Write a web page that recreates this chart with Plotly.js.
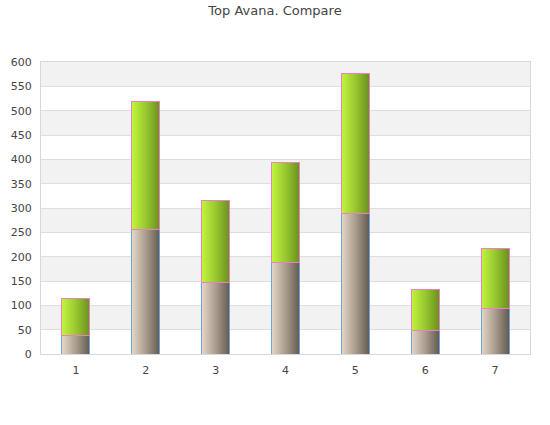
<!DOCTYPE html>
<html>
<head>
<meta charset="utf-8">
<script src="https://cdn.plot.ly/plotly-3.0.1.min.js"></script>
<style>html,body{margin:0;padding:0;background:#fff;}#chart{width:550px;height:425px;}</style>
</head>
<body>
<div id="chart"></div>
<script>
const categories = ["1", "2", "3", "4", "5", "6", "7"];
const baseValues = [38, 255, 147, 188, 289, 49, 94];
const topValues = [76, 263, 168, 205, 288, 83, 122];
const yTicks = [0, 50, 100, 150, 200, 250, 300, 350, 400, 450, 500, 550, 600];

const bands = [];
for (let i = 1; i < yTicks.length - 1; i += 2) {
  bands.push({type: 'rect', xref: 'paper', yref: 'y', x0: 0, x1: 1, y0: yTicks[i], y1: yTicks[i + 1],
    fillcolor: '#f2f2f2', line: {width: 0}, layer: 'below'});
}

const traces = [
  {type: 'bar', x: categories, y: baseValues, name: 'base',
   marker: {color: '#a89888', line: {color: '#6fa3dc', width: 1}}, width: 0.4},
  {type: 'bar', x: categories, y: topValues, name: 'top',
   marker: {color: '#98c830', line: {color: '#ee7fc4', width: 1}}, width: 0.4}
];

const layout = {
  width: 550, height: 425,
  barmode: 'stack',
  showlegend: false,
  paper_bgcolor: '#fff', plot_bgcolor: '#fff',
  font: {family: 'DejaVu Sans, sans-serif', size: 11, color: '#444'},
  title: {text: 'Top Avana. Compare', font: {size: 13, color: '#444'}, x: 0.5, xanchor: 'center', y: 0.975, yanchor: 'middle'},
  margin: {l: 41, r: 20, t: 62, b: 71},
  xaxis: {type: 'category', range: [-0.5, 6.5], showgrid: false, showline: true, linecolor: '#d8d8d8', linewidth: 1,
    mirror: true, ticks: '', tickfont: {size: 11, color: '#444'}, ticklabelstandoff: 6},
  yaxis: {range: [0, 600], tickvals: yTicks, showgrid: true, gridcolor: '#dedede', gridwidth: 1, zeroline: false,
    showline: true, linecolor: '#d8d8d8', linewidth: 1, mirror: true, ticks: '', tickfont: {size: 11, color: '#444'}, ticklabelstandoff: 6},
  shapes: bands
};

Plotly.newPlot('chart', traces, layout, {displayModeBar: false, staticPlot: true}).then(function () {
  const svg = document.querySelector('#chart svg.main-svg');
  const ns = 'http://www.w3.org/2000/svg';
  let defs = svg.querySelector('defs');
  if (!defs) { defs = document.createElementNS(ns, 'defs'); svg.insertBefore(defs, svg.firstChild); }
  function grad(id, stops) {
    const g = document.createElementNS(ns, 'linearGradient');
    g.setAttribute('id', id);
    g.setAttribute('x1', '0'); g.setAttribute('y1', '0'); g.setAttribute('x2', '1'); g.setAttribute('y2', '0');
    stops.forEach(function (s) {
      const st = document.createElementNS(ns, 'stop');
      st.setAttribute('offset', s[0]); st.setAttribute('stop-color', s[1]);
      g.appendChild(st);
    });
    defs.appendChild(g);
  }
  grad('gBrown', [['0', '#e6d8c8'], ['0.5', '#ab9d8e'], ['1', '#635a50']]);
  grad('gGreen', [['0', '#c2f53c'], ['0.5', '#98c830'], ['1', '#6a901e']]);
  const barTraces = document.querySelectorAll('#chart .barlayer .trace');
  barTraces.forEach(function (t, i) {
    t.querySelectorAll('path').forEach(function (p) {
      p.style.fill = i === 0 ? 'url(#gBrown)' : 'url(#gGreen)';
    });
  });
});
</script>
</body>
</html>
